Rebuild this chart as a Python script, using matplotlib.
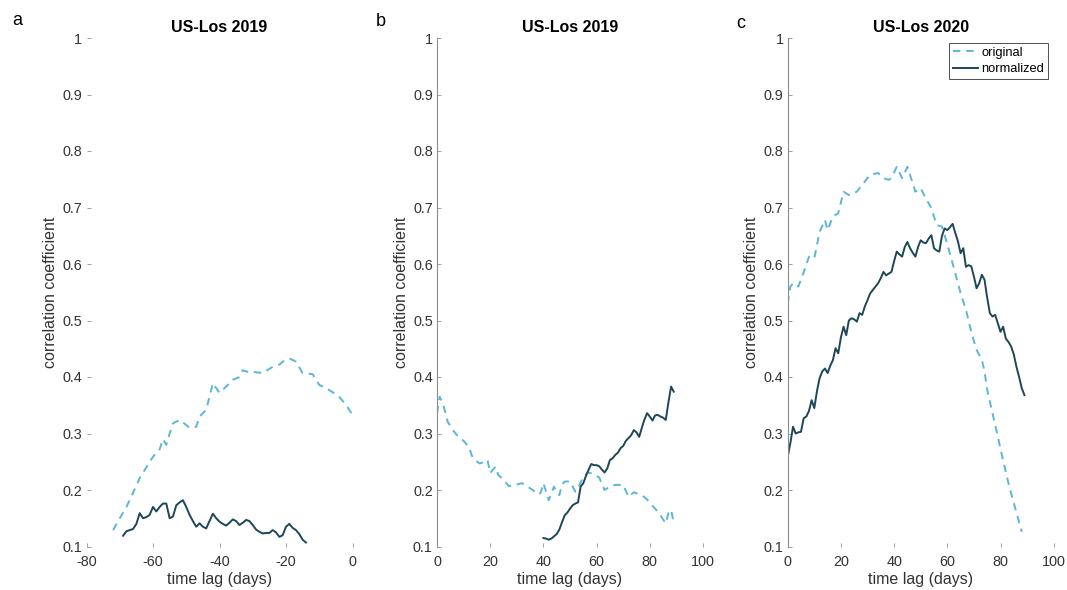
import matplotlib
matplotlib.use('Agg')
import matplotlib.pyplot as plt

plt.rcParams['font.family'] = ['Liberation Sans', 'DejaVu Sans']
plt.rcParams['axes.unicode_minus'] = False

# panel a: US-Los 2019, negative lags
a_orig_x = [-72, -70, -68, -66, -64, -62, -60, -58, -57, -56, -55, -54, -52, -50, -49, -47, -46,
            -44, -42, -40, -38, -36, -34, -33, -31, -30, -27, -24, -22, -21, -19, -17, -15, -12,
            -10, -7, -4, -2, 0]
a_orig_y = [0.129, 0.150, 0.170, 0.195, 0.221, 0.240, 0.259, 0.272, 0.290, 0.280, 0.300, 0.318,
            0.324, 0.315, 0.310, 0.312, 0.330, 0.342, 0.389, 0.372, 0.383, 0.395, 0.400, 0.412,
            0.408, 0.409, 0.407, 0.418, 0.422, 0.427, 0.433, 0.427, 0.407, 0.405, 0.386, 0.377,
            0.365, 0.351, 0.333]
a_norm_x = list(range(-69, -13))
a_norm_y = [0.119, 0.127, 0.129, 0.131, 0.140, 0.159, 0.150, 0.152, 0.156, 0.170, 0.162, 0.170,
            0.176, 0.176, 0.150, 0.153, 0.173, 0.178, 0.182, 0.170, 0.156, 0.145, 0.135, 0.141,
            0.135, 0.132, 0.145, 0.158, 0.150, 0.144, 0.140, 0.137, 0.142, 0.148, 0.145, 0.138,
            0.142, 0.147, 0.145, 0.138, 0.130, 0.126, 0.123, 0.124, 0.124, 0.129, 0.125, 0.117,
            0.120, 0.135, 0.140, 0.133, 0.129, 0.122, 0.112, 0.107]

# panel b: US-Los 2019, positive lags
b_orig_x = [0, 1, 2, 3, 4, 6, 8, 10, 12, 13, 14, 16, 18, 19, 20, 21, 22, 23, 25, 27, 29, 31, 32,
            34, 36, 38, 39, 40, 42, 44, 45, 46, 47, 48, 50, 52, 53, 55, 57, 59, 61, 62, 63, 65,
            67, 70, 72, 74, 75, 77, 79, 81, 83, 84, 86, 87, 88, 89]
b_orig_y = [0.336, 0.365, 0.355, 0.340, 0.321, 0.306, 0.294, 0.287, 0.276, 0.262, 0.254, 0.247,
            0.250, 0.253, 0.230, 0.236, 0.241, 0.227, 0.218, 0.207, 0.208, 0.211, 0.212, 0.206,
            0.200, 0.192, 0.195, 0.212, 0.182, 0.206, 0.195, 0.191, 0.210, 0.215, 0.215, 0.197,
            0.203, 0.224, 0.231, 0.228, 0.222, 0.210, 0.200, 0.206, 0.209, 0.209, 0.188, 0.196,
            0.194, 0.191, 0.183, 0.172, 0.162, 0.155, 0.141, 0.159, 0.165, 0.141]
b_norm_x = list(range(40, 90))
b_norm_y = [0.115, 0.114, 0.112, 0.114, 0.118, 0.122, 0.130, 0.143, 0.155, 0.160, 0.167, 0.173,
            0.176, 0.178, 0.206, 0.212, 0.225, 0.236, 0.246, 0.244, 0.244, 0.242, 0.236, 0.231,
            0.238, 0.253, 0.256, 0.262, 0.266, 0.274, 0.278, 0.287, 0.292, 0.297, 0.306, 0.302,
            0.294, 0.310, 0.325, 0.336, 0.330, 0.323, 0.332, 0.333, 0.330, 0.328, 0.324, 0.355,
            0.383, 0.374]

# panel c: US-Los 2020
c_orig_x = [0, 1, 2, 4, 6, 8, 10, 12, 14, 15, 17, 19, 21, 23, 26, 29, 31, 34, 36, 38, 39, 41, 43,
            45, 47, 48, 50, 52, 54, 56, 58, 60, 62, 64, 65, 67, 69, 71, 73, 74, 75, 77, 79, 81,
            83, 84, 86, 88]
c_orig_y = [0.530, 0.560, 0.566, 0.560, 0.585, 0.613, 0.610, 0.657, 0.678, 0.660, 0.684, 0.690,
            0.728, 0.722, 0.728, 0.746, 0.758, 0.761, 0.752, 0.749, 0.752, 0.772, 0.752, 0.772,
            0.743, 0.728, 0.734, 0.716, 0.699, 0.669, 0.666, 0.635, 0.601, 0.566, 0.548, 0.519,
            0.480, 0.448, 0.430, 0.410, 0.377, 0.336, 0.294, 0.252, 0.212, 0.194, 0.160, 0.126]
c_norm_x = list(range(0, 90))
c_norm_y = [0.259, 0.283, 0.312, 0.300, 0.302, 0.303, 0.327, 0.330, 0.340, 0.359, 0.345, 0.375,
            0.398, 0.410, 0.415, 0.407, 0.420, 0.430, 0.451, 0.442, 0.470, 0.489, 0.474, 0.500,
            0.504, 0.502, 0.498, 0.513, 0.510, 0.525, 0.536, 0.548, 0.554, 0.560, 0.566, 0.575,
            0.586, 0.580, 0.583, 0.586, 0.605, 0.622, 0.617, 0.613, 0.630, 0.639, 0.628, 0.620,
            0.613, 0.630, 0.642, 0.638, 0.637, 0.645, 0.651, 0.628, 0.624, 0.622, 0.650, 0.663,
            0.660, 0.665, 0.671, 0.655, 0.640, 0.619, 0.628, 0.595, 0.598, 0.596, 0.578, 0.557,
            0.566, 0.581, 0.572, 0.540, 0.513, 0.507, 0.510, 0.495, 0.480, 0.489, 0.468, 0.462,
            0.454, 0.440, 0.418, 0.400, 0.380, 0.368]

y_ticks = [0.1, 0.2, 0.3, 0.4, 0.5, 0.6, 0.7, 0.8, 0.9, 1]
y_labels = ['0.1', '0.2', '0.3', '0.4', '0.5', '0.6', '0.7', '0.8', '0.9', '1']

ORIG_COLOR = '#5bb7d3'
NORM_COLOR = '#1d4759'
TEXT_COLOR = '#333333'

W, H = 1067, 590
fig = plt.figure(figsize=(W / 100, H / 100), dpi=100)

panels = [
    dict(left=86.5, letter='a', lx=12, ly=25, title='US-Los 2019',
         ox=a_orig_x, oy=a_orig_y, nx=a_norm_x, ny=a_norm_y,
         xlim=(-80, 0), xticks=[-80, -60, -40, -20, 0], spine=False),
    dict(left=437, letter='b', lx=376, ly=26, title='US-Los 2019',
         ox=b_orig_x, oy=b_orig_y, nx=b_norm_x, ny=b_norm_y,
         xlim=(0, 100), xticks=[0, 20, 40, 60, 80, 100], spine=True),
    dict(left=787.7, letter='c', lx=736, ly=28, title='US-Los 2020',
         ox=c_orig_x, oy=c_orig_y, nx=c_norm_x, ny=c_norm_y,
         xlim=(0, 100), xticks=[0, 20, 40, 60, 80, 100], spine=True),
]

top_px, bottom_px, width_px = 38, 546.5, 266

for i, p in enumerate(panels):
    ax = fig.add_axes([p['left'] / W, 1 - bottom_px / H, width_px / W, (bottom_px - top_px) / H])
    l1, = ax.plot(p['ox'], p['oy'], color=ORIG_COLOR, linewidth=1.4, dashes=(3.8, 3.0),
                  label='original')
    l2, = ax.plot(p['nx'], p['ny'], color=NORM_COLOR, linewidth=1.4, label='normalized')

    ax.set_xlim(*p['xlim'])
    ax.set_ylim(0.1, 1)
    ax.set_xticks(p['xticks'])
    ax.set_yticks(y_ticks)
    ax.set_yticklabels(y_labels)

    for side in ['top', 'right', 'bottom']:
        ax.spines[side].set_visible(False)
    ax.spines['left'].set_visible(p['spine'])
    ax.spines['left'].set_color('#8c8c8c')
    ax.spines['left'].set_linewidth(0.8)

    ax.tick_params(axis='both', direction='in', length=3, width=0.7, color='#a0a0a0',
                   labelsize=10.4, labelcolor=TEXT_COLOR)
    ax.tick_params(axis='x', pad=6)
    ax.tick_params(axis='y', pad=3)

    ax.set_title(p['title'], fontsize=11.5, fontweight='bold', color='black', pad=4)
    ax.set_xlabel('time lag (days)', fontsize=11.5, color=TEXT_COLOR)
    ax.set_ylabel('correlation coefficient', fontsize=11.5, color=TEXT_COLOR)
    ax.xaxis.set_label_coords(0.5, -25.5 / (bottom_px - top_px))
    ax.yaxis.set_label_coords(-28.5 / width_px, 0.5)

    fig.text(p['lx'] / W, 1 - p['ly'] / H, p['letter'], fontsize=13, color='black',
             ha='left', va='baseline')

    if i == 2:
        leg = ax.legend(handles=[l1, l2], loc='upper right',
                        bbox_to_anchor=(1048 / W, 1 - 43 / H), bbox_transform=fig.transFigure,
                        borderaxespad=0, fontsize=9.3, handlelength=1.95, handletextpad=0.25,
                        labelspacing=0.35, borderpad=0.3, fancybox=False, framealpha=1)
        leg.get_frame().set_edgecolor('#333333')
        leg.get_frame().set_linewidth(0.6)

fig.savefig('out.png', dpi=100)
